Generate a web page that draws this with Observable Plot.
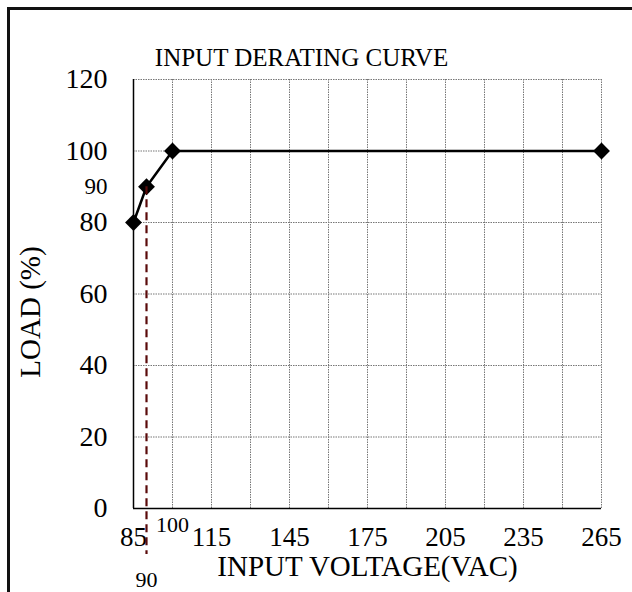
<!DOCTYPE html>
<html>
<head>
<meta charset="utf-8">
<script src="https://cdn.jsdelivr.net/npm/d3@7"></script>
<script src="https://cdn.jsdelivr.net/npm/@observablehq/plot@0.6"></script>
<style>
  html, body { margin: 0; padding: 0; background: #fff; }
  #wrap { position: relative; width: 632px; height: 592px; overflow: hidden; }
  #border { position: absolute; left: 7px; top: 7px; right: -20px; bottom: -20px;
            border-left: 3px solid #111; border-top: 3px solid #111; }
  #chart { position: absolute; left: 0; top: 0; }
  svg { font-family: "Liberation Serif", "Times New Roman", serif; }
</style>
</head>
<body>
<div id="wrap"><div id="border"></div><div id="chart"></div></div>
<script>
const voltage = [85, 90, 100, 265];
const load = [80, 90, 100, 100];
const xTicks = [85, 115, 145, 175, 205, 235, 265];
const xGrid = [100, 115, 130, 145, 160, 175, 190, 205, 220, 235, 250, 265];
const yTicks = [0, 20, 40, 60, 80, 100, 120];
const yGrid = [20, 40, 60, 80, 100, 120];
const markX = 90;
const markY = 90;
const title = "INPUT DERATING CURVE";
const xLabel = "INPUT VOLTAGE(VAC)";
const yLabel = "LOAD (%)";

const pts = voltage.map((v, i) => ({v, l: load[i]}));
const font = "Liberation Serif, Times New Roman, serif";

const chart = Plot.plot({
  width: 632,
  height: 592,
  marginLeft: 133,
  marginRight: 31,
  marginTop: 79,
  marginBottom: 84,
  style: {fontFamily: font, background: "transparent", overflow: "visible"},
  x: {domain: [85, 265]},
  y: {domain: [0, 120]},
  marks: [
    Plot.ruleX(xGrid, {stroke: "#777", strokeWidth: 1, strokeDasharray: "1.5,1"}),
    Plot.ruleY(yGrid, {stroke: "#777", strokeWidth: 1, strokeDasharray: "1.5,1"}),
    Plot.ruleX([85], {stroke: "#000", strokeWidth: 1.5}),
    Plot.ruleY([0], {stroke: "#000", strokeWidth: 1.5}),
    Plot.axisX({ticks: xTicks, tickSize: 0, tickPadding: 18, fontSize: 27, label: null, fill: "#000"}),
    Plot.axisY({ticks: yTicks, tickSize: 0, tickPadding: 26, fontSize: 28, label: null, fill: "#000"}),
    Plot.line(pts, {x: "v", y: "l", stroke: "#000", strokeWidth: 2.5}),
    Plot.dot(pts, {x: "v", y: "l", symbol: "diamond2", r: 7.6, fill: "#000", stroke: "none"}),
    Plot.ruleX([markX], {y1: markY, y2: 0, insetBottom: -46, stroke: "#5a0a0a", strokeWidth: 2.2, strokeDasharray: "8,5"}),
    Plot.text([String(markY)], {x: 85, y: markY, dx: -26, textAnchor: "end", fontSize: 23, fill: "#000"}),
    Plot.text(["100"], {x: 100, y: 0, dy: 16, fontSize: 22, fill: "#000"}),
    Plot.text([String(markX)], {x: markX, y: 0, dy: 71, fontSize: 22, fill: "#000"}),
    Plot.text([title], {frameAnchor: "top", dx: -66, dy: -31, fontSize: 25, fill: "#000"}),
    Plot.text([xLabel], {frameAnchor: "bottom", dy: 67, fontSize: 29, fill: "#000"}),
    Plot.text([yLabel], {frameAnchor: "left", textAnchor: "middle", dx: -103, dy: 18, rotate: -90, fontSize: 29, fill: "#000"})
  ]
});
document.getElementById("chart").appendChild(chart);
</script>
</body>
</html>
